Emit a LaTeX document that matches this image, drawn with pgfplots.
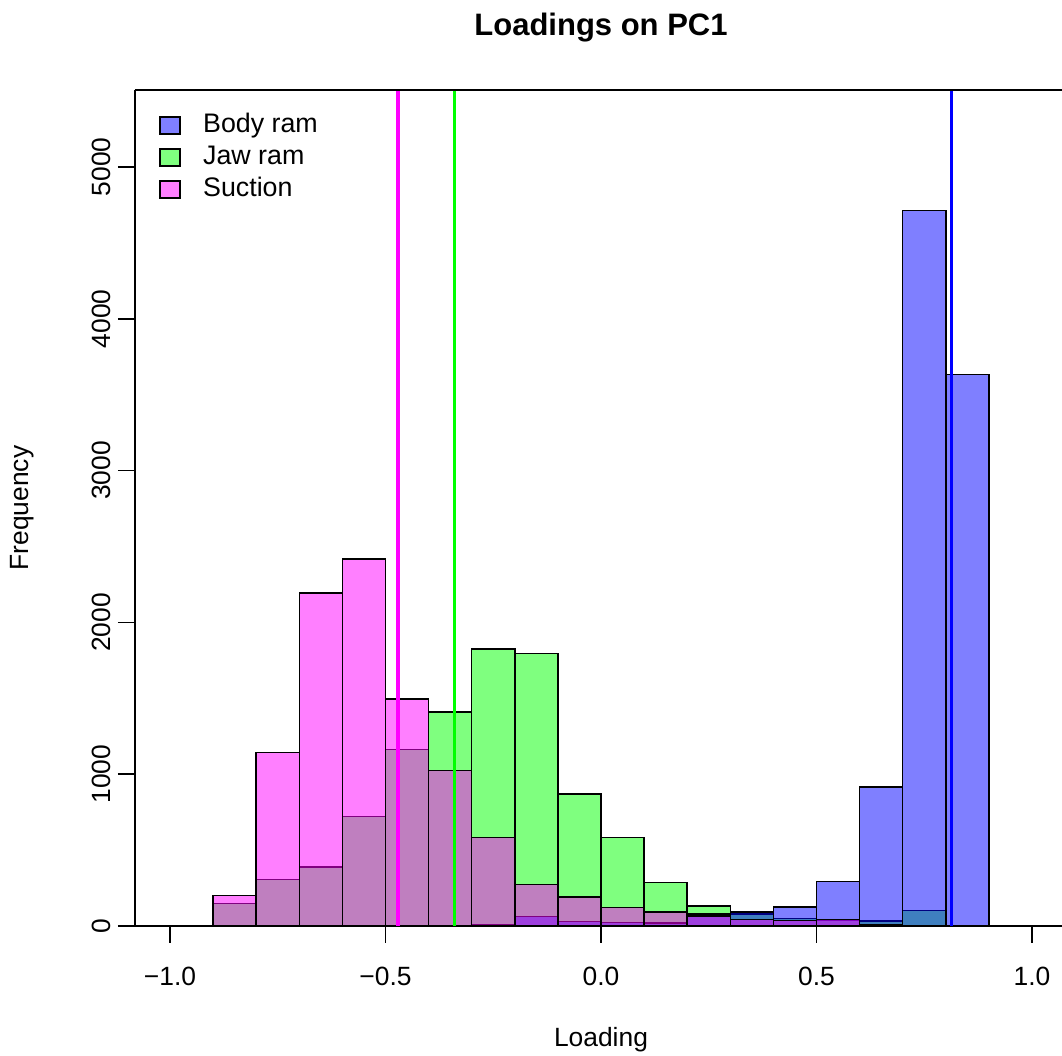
\documentclass[border=0pt]{standalone}
\usepackage{fontspec}
\setmainfont{Liberation Sans}
\usepackage{pgfplots}
\pgfplotsset{compat=1.18}
\usetikzlibrary{calc}
\definecolor{rblue}{RGB}{0,0,255}
\definecolor{rgreen}{RGB}{0,255,0}
\definecolor{rmag}{RGB}{255,0,255}
\pgfplotsset{
  sqlegend/.style={legend image code/.code={\draw[##1] (0pt,-4.25pt) rectangle (10pt,4.25pt); \path[draw=none, fill=none] (0pt,0pt) -- (21.5pt,0pt);}},
  histbar/.style={ybar interval, fill=#1, fill opacity=0.5, draw=black, line width=0.75pt, sqlegend},
}

\begin{document}
\begin{tikzpicture}
\begin{axis}[
  width=463.5pt, height=418pt, scale only axis,
  xmin=-1.0812, xmax=1.0696, ymin=0, ymax=5507,
  axis x line*=bottom, axis y line*=left,
  axis line style={line width=0.8pt, black},
  clip=false,
  xtick={-1,-0.5,0,0.5,1},
  xticklabels={−1.0,−0.5,0.0,0.5,1.0},
  ytick={0,1000,2000,3000,4000,5000},
  yticklabels={0,1000,2000,3000,4000,5000},
  scaled y ticks=false,
  tick align=outside,
  major tick length=8.5pt,
  tick style={black, line width=0.8pt},
  ticklabel style={font=\fontsize{13.2}{15}\selectfont},
  xticklabel style={anchor=north, inner sep=0pt, yshift=-12pt},
  yticklabel style={rotate=90, anchor=south, inner sep=0pt, inner ysep=3.5pt},
  legend style={at={(rel axis cs:0,1)}, anchor=north west, xshift=12pt, yshift=-11pt,
    draw=none, fill=none, inner sep=0pt, font=\fontsize{13.4}{15}\selectfont,
    row sep=3pt, nodes={inner sep=0pt, text height=10pt, text depth=3pt}},
  legend cell align=left,
]
\addlegendimage{histbar=rblue}
\addlegendentry{Body ram}
\addlegendimage{histbar=rgreen}
\addlegendentry{Jaw ram}
\addlegendimage{histbar=rmag}
\addlegendentry{Suction}
\addplot[histbar=rgreen, forget plot]
  coordinates {(-0.9,148) (-0.8,307) (-0.7,388) (-0.6,720) (-0.5,1162) (-0.4,1410) (-0.3,1825) (-0.2,1795) (-0.1,868) (0.0,582) (0.1,287) (0.2,133) (0.3,78) (0.4,48) (0.5,40) (0.6,33) (0.7,103) (0.8,0)};
\addplot[histbar=rblue, forget plot]
  coordinates {(-0.3,8) (-0.2,62) (-0.1,30) (0.0,24) (0.1,20) (0.2,80) (0.3,92) (0.4,125) (0.5,293) (0.6,916) (0.7,4712) (0.8,3632) (0.9,0)};
\addplot[histbar=rmag, forget plot]
  coordinates {(-0.9,202) (-0.8,1143) (-0.7,2192) (-0.6,2418) (-0.5,1495) (-0.4,1025) (-0.3,584) (-0.2,275) (-0.1,190) (0.0,123) (0.1,91) (0.2,66) (0.3,44) (0.4,36) (0.5,44) (0.6,5) (0.7,0)};
\addplot[rmag, line width=1.6pt, forget plot] coordinates {(-0.471,0) (-0.471,5507)};
\addplot[rgreen, line width=1.6pt, forget plot] coordinates {(-0.339,0) (-0.339,5507)};
\addplot[rblue, line width=1.6pt, forget plot] coordinates {(0.814,0) (0.814,5507)};
\draw[line width=0.8pt] (rel axis cs:0,1) -- (rel axis cs:1,1);
\coordinate (bl) at (rel axis cs:0,0);
\coordinate (tr) at (rel axis cs:1,1);
\node[font=\bfseries\fontsize{15.5}{18}\selectfont, yshift=31pt] at (axis cs:0,5507) {Loadings on PC1};
\node[font=\fontsize{13.2}{15}\selectfont, yshift=-57pt] at (axis cs:0,0) {Loading};
\node[font=\fontsize{13.2}{15}\selectfont, xshift=-56.5pt, rotate=90] at (rel axis cs:0,0.5) {Frequency};
\end{axis}
\pgfresetboundingbox
\useasboundingbox ($(bl)+(-67.5pt,-65pt)$) rectangle ($(tr)+(0pt,45pt)$);
\end{tikzpicture}
\end{document}
